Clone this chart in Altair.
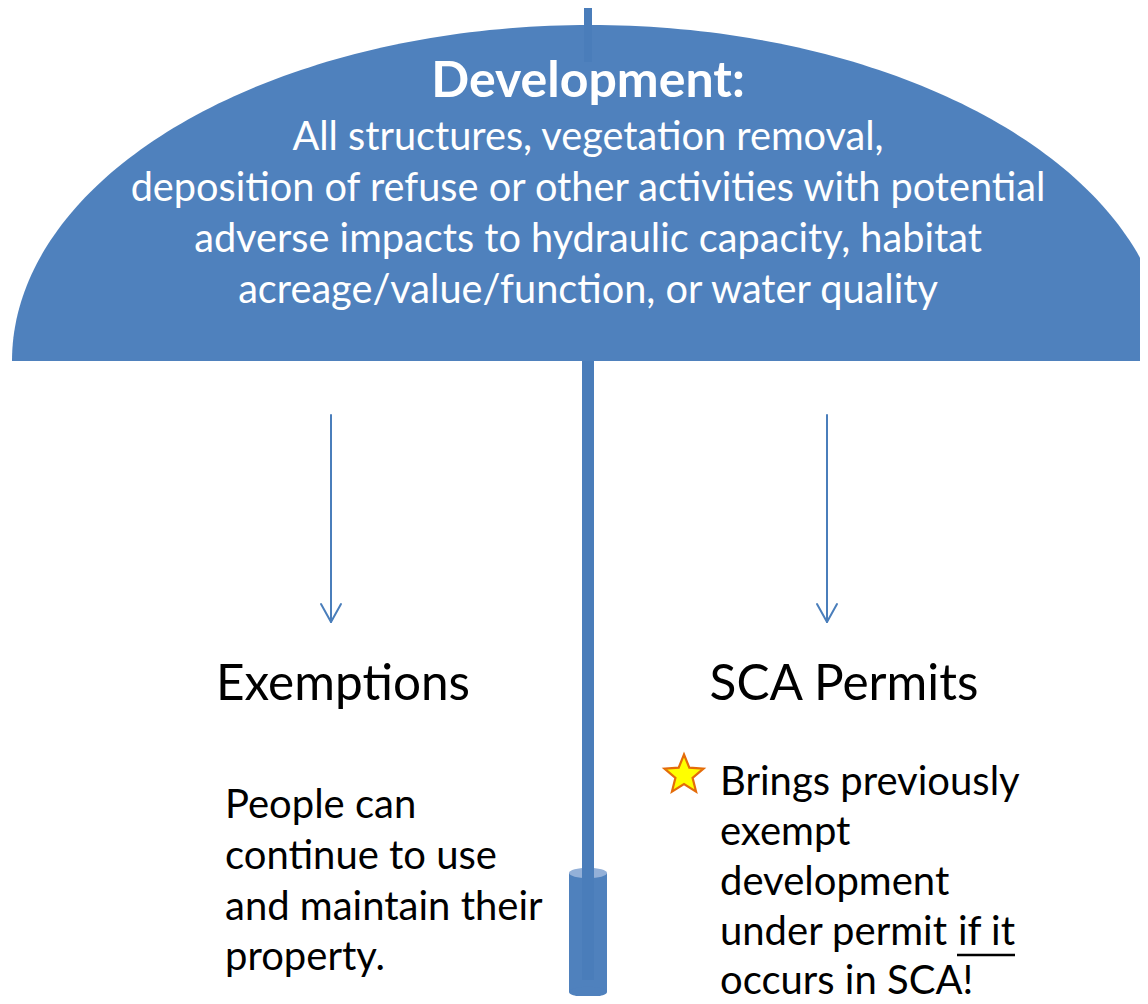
import altair as alt
import pandas as pd
import math

# ---------------- content ----------------
TITLE = "Development:"
DEFINITION = [
    "All structures, vegetation removal,",
    "deposition of refuse or other activities with potential",
    "adverse impacts to hydraulic capacity, habitat",
    "acreage/value/function, or water quality",
]
HEADINGS = ["Exemptions", "SCA Permits"]
EXEMPTIONS = ["People can", "continue to use", "and maintain their", "property."]
PERMITS = ["Brings previously", "exempt", "development", "under permit", "occurs in SCA!"]
UNDERLINED = "if it"

# ---------------- layout (reference pixel coordinates) ----------------
W, H = 1132, 988
xs = alt.Scale(domain=[8, 1140], nice=False, zero=False)
ys = alt.Scale(domain=[8, 996], nice=False, zero=False, reverse=True)

CX, A, B, BASE = 590, 578, 336, 361          # umbrella canopy (half ellipse)
DOME = "#4F81BD"
POLE = "#4A7DBA"
LIGHT = "#93B0D8"
ARROW = "#4A7EBB"
FONT = "Lato"


def X(f):
    return alt.X(f, type="quantitative", scale=xs, axis=None)


def Y(f):
    return alt.Y(f, type="quantitative", scale=ys, axis=None)


# canopy
dome = (
    alt.Chart(alt.sequence(0, 181, 1, as_="deg"))
    .transform_calculate(
        x=f"{CX} - {A} * cos(datum.deg * PI / 180)",
        y=f"{BASE} - {B} * sin(datum.deg * PI / 180)",
    )
    .mark_area(color=DOME, clip=True)
    .encode(x=X("x"), y=Y("y"), y2=alt.datum(BASE))
)

# rectangles: pole tip, handle body, pole
rects = pd.DataFrame(
    {
        "x": [584, 569, 582],
        "x2": [592, 607, 594],
        "y": [7, 873, 361],
        "y2": [62, 992, 980],
        "c": [POLE, DOME, POLE],
    }
)


def rect_layer(df):
    return alt.Chart(df).mark_rect().encode(
        x=X("x"), x2="x2", y=Y("y"), y2="y2", color=alt.Color("c:N", scale=None)
    )


rect_tip = rect_layer(rects.iloc[[0]])
rect_handle = rect_layer(rects.iloc[[1]])
rect_pole = rect_layer(rects.iloc[[2]])

ELLIPSE = "M-1,0A1,0.27,0,1,0,1,0A1,0.27,0,1,0,-1,0Z"


def ellipse_layer(xv, yv, c):
    return alt.Chart(pd.DataFrame({"x": [xv], "y": [yv], "c": [c]})).mark_point(
        shape=ELLIPSE, filled=True, size=38 * 38, opacity=1, strokeWidth=0
    ).encode(x=X("x"), y=Y("y"), color=alt.Color("c:N", scale=None))


handle_bottom = ellipse_layer(588, 992, DOME)
handle_top = ellipse_layer(588, 873, LIGHT)

# arrows
segs = []
for xa in [331, 827]:
    segs.append({"x": xa, "x2": xa, "y": 415, "y2": 621})
    segs.append({"x": xa - 10, "x2": xa, "y": 604, "y2": 622})
    segs.append({"x": xa + 10, "x2": xa, "y": 604, "y2": 622})
arrows = alt.Chart(pd.DataFrame(segs)).mark_rule(
    color=ARROW, strokeWidth=2, strokeCap="round"
).encode(x=X("x"), x2="x2", y=Y("y"), y2="y2")

# star
pts = []
for k in range(10):
    r = 1.0 if k % 2 == 0 else 0.44
    ang = math.radians(-90 + 36 * k)
    pts.append(f"{r * math.cos(ang):.3f},{r * math.sin(ang):.3f}")
STAR = "M" + "L".join(pts) + "Z"
star = alt.Chart(pd.DataFrame({"x": [684], "y": [775]})).mark_point(
    shape=STAR, filled=True, fill="#FFFF00", stroke="#E46C0A", strokeWidth=2.2,
    size=41 * 41, opacity=1
).encode(x=X("x"), y=Y("y"))

# underline
underline = alt.Chart(pd.DataFrame({"x": [957], "x2": [1015], "y": [955]})).mark_rule(
    color="black", strokeWidth=2.5
).encode(x=X("x"), x2="x2", y=Y("y"))


def text_layer(texts, xpos, ypos, **mark):
    df = pd.DataFrame({"t": texts, "x": xpos, "y": ypos})
    return alt.Chart(df).mark_text(font=FONT, baseline="alphabetic", **mark).encode(
        x=X("x"), y=Y("y"), text="t:N"
    )


title = text_layer([TITLE], [588], [97], fontSize=50, fontWeight="bold",
                   color="white", align="center")
definition = text_layer(DEFINITION, [588] * 4, [150, 201, 252, 303], fontSize=39.7,
                        color="white", align="center")
headings = text_layer(HEADINGS, [343, 844], [700, 700], fontSize=49.5,
                      color="black", align="center")
exempt = text_layer(EXEMPTIONS, [225] * 4, [818, 869, 920, 970], fontSize=40,
                    color="black", align="left")
permits = text_layer(PERMITS, [720] * 5, [795, 845, 895, 945, 994], fontSize=40,
                     color="black", align="left")
ifit = text_layer([UNDERLINED], [1015], [945], fontSize=40, color="black", align="right")

chart = alt.layer(
    dome, rect_tip, title, definition, rect_handle, handle_bottom, handle_top,
    rect_pole, arrows, star, underline, headings, exempt, permits, ifit,
).properties(
    width=W, height=H, padding=0, autosize=alt.AutoSizeParams(type="none"),
    background="white",
).configure_view(stroke=None)

chart.save("out.html", embed_options={"renderer": "svg", "actions": False})
